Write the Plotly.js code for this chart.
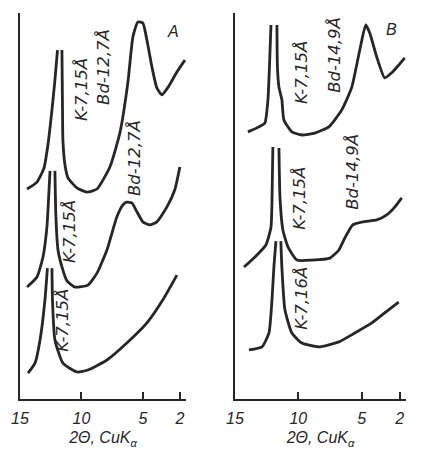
<!DOCTYPE html>
<html>
<head>
<meta charset="utf-8">
<script src="https://cdn.plot.ly/plotly-3.0.1.min.js"></script>
<style>html,body{margin:0;padding:0;background:#fff;}#chart{width:425px;height:452px;}</style>
</head>
<body>
<div id="chart"></div>
<script>
// ---- Data (2θ in degrees, intensity in arbitrary units; null = off-scale peak top) ----
// Panel A
const A_a_x = [14.43, 13.62, 13.05, 12.73, 12.40, 12.16, 11.95, 11.77, 11.59, 11.55, 11.51, 11.34, 11.10, 10.37, 9.56, 8.74, 7.69, 6.88, 6.23, 5.82, 5.41, 5.01, 4.68, 4.27, 3.87, 3.46, 2.89, 2.24, 1.59];
const A_a_y = [54.4, 56.2, 59.8, 65.8, 74.9, 82.6, 90.4, null, 90.4, 77.5, 67.1, 60.6, 57.3, 54.7, 53.6, 54.4, 60.1, 68.9, 81.9, 93.8, 97.7, 97.4, 93.0, 86.0, 80.6, 78.8, 81.1, 84.7, 87.8];
const A_b_x = [14.43, 13.62, 13.13, 12.81, 12.68, 12.56, 12.36, 12.16, 12.08, 11.91, 11.51, 11.18, 10.53, 9.48, 8.74, 7.93, 7.12, 6.63, 6.31, 5.90, 5.49, 5.01, 4.44, 3.87, 3.06, 2.41, 2.00];
const A_b_y = [29.0, 31.6, 36.8, 44.6, 51.6, 59.1, null, 59.1, 47.2, 38.6, 33.4, 30.6, 29.0, 29.5, 32.6, 38.6, 47.2, 50.3, 51.0, 50.8, 48.5, 45.9, 45.1, 45.9, 49.7, 54.2, 60.1];
const A_c_x = [14.35, 13.78, 13.37, 12.97, 12.77, 12.58, 12.40, 12.36, 12.16, 11.51, 10.37, 9.48, 7.93, 6.31, 4.68, 3.38, 2.24];
const A_c_y = [6.7, 9.3, 15.3, 25.7, 33.9, null, 33.9, 25.7, 15.3, 9.3, 7.0, 7.5, 10.1, 14.5, 19.7, 25.7, 32.1];
// Panel B
const B_a_x = [13.98, 13.11, 12.64, 12.40, 12.28, 12.16, 11.92, 11.69, 11.65, 11.53, 11.30, 11.14, 10.51, 9.72, 8.70, 7.59, 6.57, 5.78, 5.15, 4.68, 4.36, 3.81, 3.18, 2.63, 2.08, 1.60];
const B_a_y = [69.2, 70.5, 71.5, 77.5, 86.0, 96.9, null, 96.9, 86.0, 80.8, 77.5, 72.3, 69.2, 68.4, 68.9, 70.5, 74.9, 80.8, 90.4, 96.9, 94.8, 88.6, 83.2, 84.5, 86.5, 88.4];
const B_b_x = [14.29, 13.42, 12.56, 12.16, 12.08, 12.01, 11.77, 11.53, 11.45, 11.22, 10.82, 10.11, 8.93, 7.51, 6.80, 6.33, 5.70, 4.91, 3.81, 3.02, 2.39, 1.84];
const B_b_y = [34.2, 36.8, 39.9, 44.5, 51.3, 65.3, null, 65.0, 52.3, 43.8, 39.4, 36.0, 36.0, 36.5, 38.6, 41.7, 45.1, 45.9, 46.4, 47.7, 49.7, 52.1];
const B_c_x = [13.90, 12.87, 12.32, 12.08, 11.93, 11.77, 11.58, 11.38, 11.30, 11.06, 10.51, 9.72, 8.38, 6.80, 5.54, 4.20, 3.18, 2.08];
const B_c_y = [12.7, 13.5, 17.1, 25.7, 34.2, 40.9, null, 40.9, 34.2, 23.1, 17.1, 14.5, 13.5, 14.8, 17.1, 19.7, 22.3, 25.1];

// Tick labels
const tickVals = [15, 10, 5, 2];
const tickText = ['15', '10', '5', '2'];
const axisTitle = '2Θ, CuK<sub>α</sub>';

// Peak / curve labels
const A_labels = ['K-7,15Å', 'Bd-12,7Å', 'Bd-12,7Å', 'K-7,15Å', 'K-7,15Å'];
const A_label_x = [10.04, 8.26, 5.74, 11.02, 11.51];
const A_label_y = [80.3, 86.0, 62.4, 43.5, 20.5];
const B_labels = ['K-7,15Å', 'Bd-14,9Å', 'K-7,15Å', 'Bd-14,9Å', 'K-7,16Å'];
const B_label_x = [9.80, 7.20, 9.88, 5.78, 9.72];
const B_label_y = [84.7, 89.1, 52.1, 58.8, 26.2];
const curveNames = ['a', 'b', 'c'];
const A_name_x = [0.21, 0.78, 0.62];
const A_name_y = [89.1, 61.9, 32.1];
const B_name_x = [0.66, 0.66, 0.82];
const B_name_y = [88.6, 52.6, 25.7];
const panelNames = ['A', 'B'];
const panel_x = [2.57, 2.63];
const panel_y = [95.1, 95.6];

// ---- Styling ----
const ink = '#262626';
const lineStyle = {color: ink, width: 2.8, shape: 'spline', smoothing: 0.5};

function tr(x, y, xa, ya) {
  return {x: x, y: y, xaxis: xa, yaxis: ya, type: 'scatter', mode: 'lines',
          line: lineStyle, connectgaps: false, hoverinfo: 'skip', showlegend: false};
}
const data = [
  tr(A_a_x, A_a_y, 'x', 'y'), tr(A_b_x, A_b_y, 'x', 'y'), tr(A_c_x, A_c_y, 'x', 'y'),
  tr(B_a_x, B_a_y, 'x2', 'y2'), tr(B_b_x, B_b_y, 'x2', 'y2'), tr(B_c_x, B_c_y, 'x2', 'y2')
];

const labFont = {family: 'DejaVu Sans', size: 16.5, color: ink, style: 'italic'};
const annotations = [];
function addRot(texts, xs, ys, xr, yr) {
  texts.forEach((t, i) => annotations.push({text: t, x: xs[i], y: ys[i], xref: xr, yref: yr,
    textangle: -90, showarrow: false, font: labFont}));
}
function addPlain(texts, xs, ys, xr, yr) {
  texts.forEach((t, i) => annotations.push({text: t, x: xs[i], y: ys[i], xref: xr, yref: yr,
    showarrow: false, font: {family: 'Liberation Sans', size: 16, color: ink, style: 'italic'}}));
}
addRot(A_labels, A_label_x, A_label_y, 'x', 'y');
addRot(B_labels, B_label_x, B_label_y, 'x2', 'y2');
addPlain(curveNames, A_name_x, A_name_y, 'x', 'y');
addPlain(curveNames, B_name_x, B_name_y, 'x2', 'y2');
addPlain([panelNames[0]], [panel_x[0]], [panel_y[0]], 'x', 'y');
addPlain([panelNames[1]], [panel_x[1]], [panel_y[1]], 'x2', 'y2');

function xax(domain, anchor) {
  return {domain: domain, range: [15, 1.5], anchor: anchor, showline: true, linecolor: ink, linewidth: 2,
    ticks: 'inside', ticklen: 7, tickwidth: 2, tickcolor: ink, tickvals: tickVals, ticktext: tickText,
    ticklabelstandoff: 4,
    showgrid: false, zeroline: false, automargin: false,
    tickfont: {family: 'Liberation Sans', size: 16, color: ink, style: 'italic'},
    title: {text: axisTitle, font: {family: 'Liberation Sans', size: 16, color: ink, style: 'italic'}, standoff: 6}};
}
function yax(anchor) {
  return {domain: [0, 1], range: [0, 100], anchor: anchor, showline: true, linecolor: ink, linewidth: 2,
    ticks: '', showticklabels: false, showgrid: false, zeroline: false, automargin: false};
}
const W = 425;
const layout = {
  width: 425, height: 452,
  margin: {l: 0, r: 0, t: 13, b: 53},
  paper_bgcolor: '#ffffff', plot_bgcolor: '#ffffff',
  showlegend: false,
  xaxis: xax([20 / W, 186 / W], 'y'),
  yaxis: yax('x'),
  xaxis2: xax([235 / W, 406 / W], 'y2'),
  yaxis2: yax('x2'),
  annotations: annotations
};
Plotly.newPlot('chart', data, layout, {staticPlot: true, displayModeBar: false});
</script>
</body>
</html>
